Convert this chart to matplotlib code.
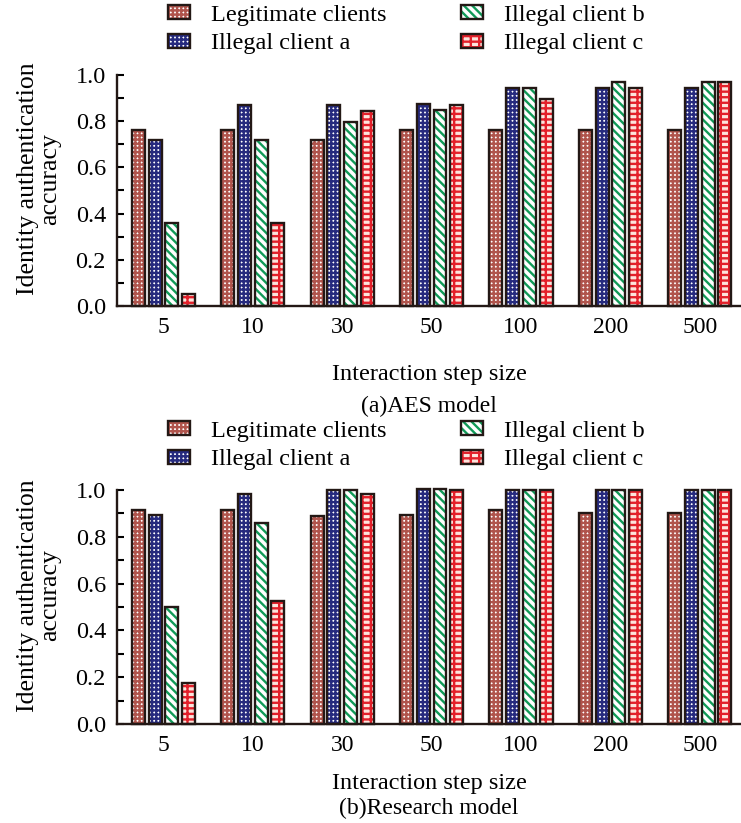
import numpy as np
import matplotlib
matplotlib.use("Agg")
from matplotlib import pyplot as plt
from matplotlib.ticker import MultipleLocator
from matplotlib.legend_handler import HandlerTuple

steps = ["5", "10", "30", "50", "100", "200", "500"]
names = ["Legitimate clients", "Illegal client a", "Illegal client b", "Illegal client c"]

# (a) AES model
aes_legit = [0.76, 0.76, 0.72, 0.76, 0.76, 0.76, 0.76]
aes_a = [0.72, 0.87, 0.87, 0.875, 0.945, 0.945, 0.945]
aes_b = [0.36, 0.72, 0.795, 0.85, 0.945, 0.97, 0.97]
aes_c = [0.05, 0.36, 0.845, 0.87, 0.895, 0.945, 0.97]

# (b) Research model
res_legit = [0.915, 0.915, 0.89, 0.895, 0.915, 0.90, 0.90]
res_a = [0.895, 0.985, 1.0, 1.005, 1.0, 1.0, 1.0]
res_b = [0.50, 0.86, 1.0, 1.005, 1.0, 1.0, 1.0]
res_c = [0.175, 0.525, 0.985, 1.0, 1.0, 1.0, 1.0]

plt.rcParams['font.family'] = ['Liberation Serif', 'DejaVu Serif']
plt.rcParams['hatch.linewidth'] = 1.7

# face colour, hatch colour, hatch
styles = [
    ("white", "#b0544c", "++++"),
    ("white", "#262a7e", "++++"),
    ("white", "#119a58", "\\\\\\\\"),
    ("#fde4dc", "#e3202a", "---||"),
]
edge = "#231815"

fig = plt.figure(figsize=(7.41, 8.23), dpi=100)
W, H = 741, 823


def panel(top, bottom, series, sub, leg_top, xl_y, sub_y):
    ax = fig.add_axes([117 / W, 1 - bottom / H, (740 - 117) / W, (bottom - top) / H])
    x = np.arange(len(steps))
    w = 0.145
    pitch = 0.187
    handles = []
    for i, vals in enumerate(series):
        fc, hc, h = styles[i]
        pos = x + (i - 1.5) * pitch
        b1 = ax.bar(pos, vals, w, color=fc, edgecolor=hc, hatch=h, linewidth=0, clip_on=False)
        b2 = ax.bar(pos, vals, w, fill=False, edgecolor=edge, linewidth=1.7, clip_on=False)
        handles.append((b1[0], b2[0]))
    ax.set_xlim(-0.52, 6.45)
    ax.set_ylim(0, 1.0)
    ax.set_xticks(x)
    ax.set_xticklabels(steps, fontsize=17)
    ax.tick_params(axis='x', length=0, pad=8)
    ax.yaxis.set_major_locator(MultipleLocator(0.2))
    ax.yaxis.set_minor_locator(MultipleLocator(0.1))
    ax.yaxis.set_major_formatter(matplotlib.ticker.FormatStrFormatter('%.1f'))
    ax.tick_params(axis='y', which='both', direction='in', length=5, width=1.5, labelsize=17.5, pad=8)
    for s in ['top', 'right']:
        ax.spines[s].set_visible(False)
    for s in ['left', 'bottom']:
        ax.spines[s].set_linewidth(1.7)
        ax.spines[s].set_color(edge)
    ax.set_ylabel("Identity authentication\naccuracy", fontsize=18.5, linespacing=1.0)
    ax.yaxis.set_label_coords(-0.09, 0.55)
    fig.text(429 / W, 1 - xl_y / H, "Interaction step size", ha='center', va='center', fontsize=17.5)
    fig.text(429 / W, 1 - sub_y / H, sub, ha='center', va='center', fontsize=17)
    fig.legend(handles, names, loc='upper left', bbox_to_anchor=(168 / W, 1 - leg_top / H),
               ncol=2, frameon=False, fontsize=17.5, handlelength=0.9, handleheight=0.5,
               handletextpad=0.85, columnspacing=3.1, labelspacing=0.3, borderpad=0,
               borderaxespad=0, handler_map={tuple: HandlerTuple(ndivide=1)})
    return ax


panel(75, 306, [aes_legit, aes_a, aes_b, aes_c], "(a)AES model", 5, 374, 406)
panel(490, 724, [res_legit, res_a, res_b, res_c], "(b)Research model", 421, 783, 808)

fig.savefig("out.png", dpi=100)
